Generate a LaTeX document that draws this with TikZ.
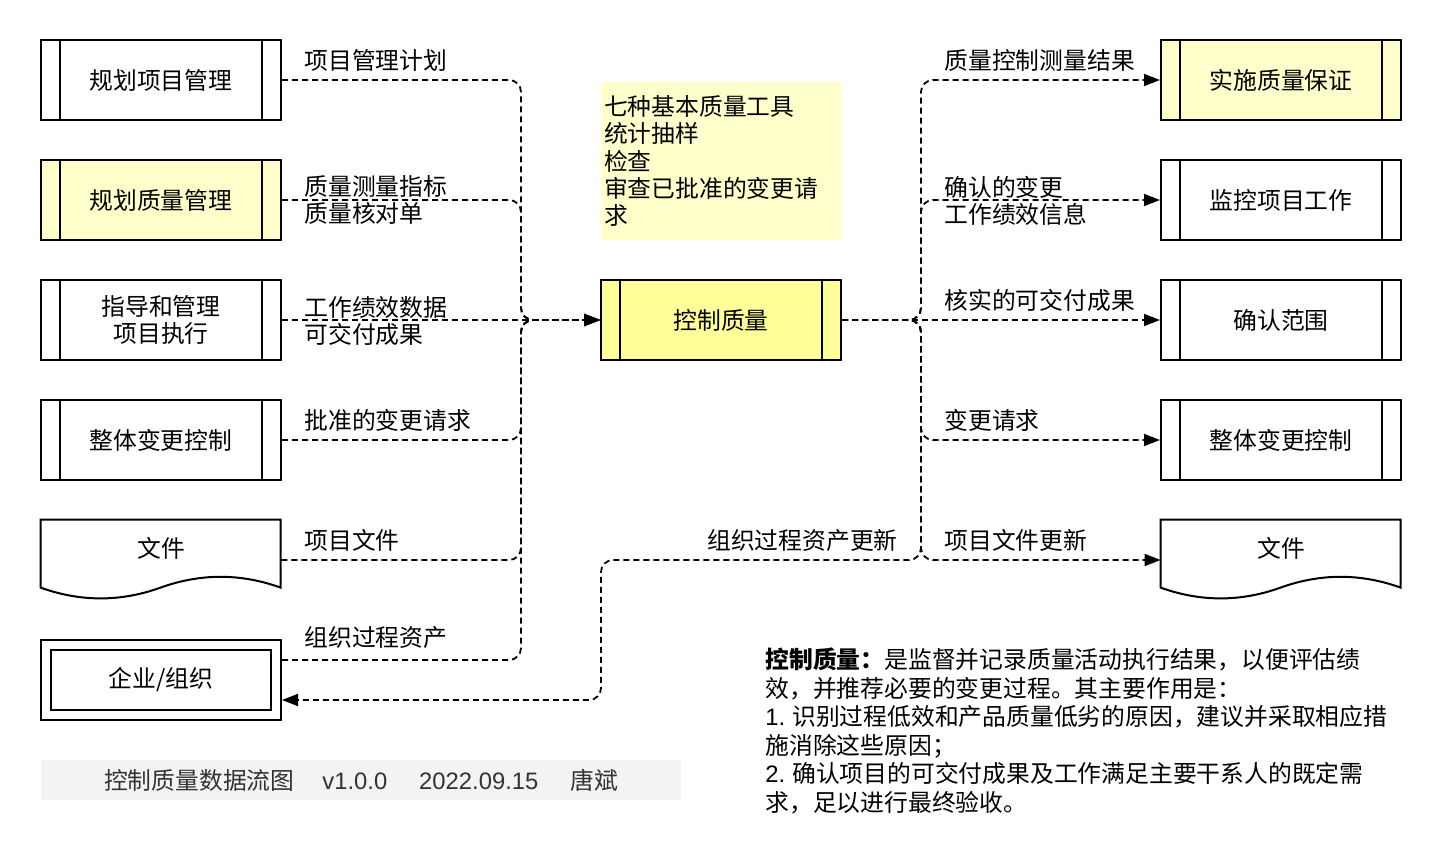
\documentclass[tikz,border=0pt]{standalone}
\usepackage{fontspec}
\setmainfont{Noto Sans CJK SC}
\newfontfamily\lat{Liberation Sans}
\usetikzlibrary{arrows.meta,calc}
\definecolor{ly}{HTML}{FFFFCC}
\definecolor{my}{HTML}{FFFF99}
\definecolor{foot}{HTML}{F3F3F3}
\definecolor{ftxt}{HTML}{333333}
\begin{document}
\begin{tikzpicture}[x=0.5pt,y=-0.5pt,
  every node/.style={font=\fontsize{11.9}{13.6}\selectfont, inner sep=0pt},
  proc/.style={draw, line width=1pt, minimum width=120pt, minimum height=40pt, align=center},
  frame/.style={minimum width=120pt, minimum height=40pt},
  flow/.style={line width=0.9pt, dash pattern=on 3pt off 2pt, rounded corners=6pt, -{Triangle[length=8pt,width=6pt]}},
  lbl/.style={anchor=west, align=left}]
\useasboundingbox (0,0) rectangle (1442,862);

% left column
\node[proc] (l1) at (161,80) {规划项目管理};
\node[proc, fill=ly] (l2) at (161,200) {规划质量管理};
\node[proc] (l3) at (161,320) {指导和管理\\项目执行};
\node[proc] (l4) at (161,440) {整体变更控制};
\node[frame] (ldoc) at (161,560) {};
\node (ldoct) at (161,548) {文件};
\node[draw, line width=1pt, minimum width=120pt, minimum height=40pt] (ent) at (161,680) {};
\node[draw, line width=1pt, minimum width=110pt, minimum height=30pt] (enti) at (161,680) {企业/组织};

% center
\node[proc, fill=my] (cq) at (721,320) {控制质量};
\node[fill=ly, minimum width=120pt, minimum height=79pt, text width=117pt, align=left] (note) at (721,161)
  {七种基本质量工具\\统计抽样\\检查\\审查已批准的变更请\\求};

% right column
\node[proc, fill=ly] (r1) at (1281,80) {实施质量保证};
\node[proc] (r2) at (1281,200) {监控项目工作};
\node[proc] (r3) at (1281,320) {确认范围};
\node[proc] (r4) at (1281,440) {整体变更控制};
\node[frame] (rdoc) at (1281,560) {};
\node (rdoct) at (1281,548) {文件};

% inner vertical lines of process boxes
\foreach \n in {l1,l2,l3,l4,cq,r1,r2,r3,r4}
  \draw[line width=1pt] ([xshift=10pt]\n.north west) -- ([xshift=10pt]\n.south west)
                        ([xshift=-10pt]\n.north east) -- ([xshift=-10pt]\n.south east);

% document shapes
\foreach \n in {ldoc,rdoc}
  \draw[line width=1pt, shift={(\n.north west)}]
    (0,0) -- (240,0) -- (240,68) .. controls (200,53.6) and (160,53.6) .. (120,68)
    .. controls (80,82.4) and (40,82.4) .. (0,68) -- cycle;

% trunk coordinates
\coordinate (lt) at (521,320);
\coordinate (rt) at (921,320);
\coordinate (ob) at (601,560);

% left connectors
\draw[flow] (l1.east) -| (lt) -- (cq.west);
\draw[flow] (l2.east) -| (lt) -- (cq.west);
\draw[flow] (l3.east) -- (cq.west);
\draw[flow] (l4.east) -| (lt) -- (cq.west);
\draw[flow] (ldoc.east) -| (lt) -- (cq.west);
\draw[flow] ([yshift=10pt]ent.east) -| (lt) -- (cq.west);

% right connectors
\draw[flow] (cq.east) -- (rt) |- (r1.west);
\draw[flow] (cq.east) -- (rt) |- (r2.west);
\draw[flow] (cq.east) -- (r3.west);
\draw[flow] (cq.east) -- (rt) |- (r4.west);
\draw[flow] (cq.east) -- (rt) |- (rdoc.west);
\draw[flow] (cq.east) -- (rt) |- (ob) |- ([yshift=-10pt]ent.east);

% left labels
\node[lbl] (la1) at (304,60) {项目管理计划};
\node[lbl] (la2) at (304,200) {质量测量指标\\质量核对单};
\node[lbl] (la3) at (304,321) {工作绩效数据\\可交付成果};
\node[lbl] (la4) at (304,420) {批准的变更请求};
\node[lbl] (la5) at (304,540) {项目文件};
\node[lbl] (la6) at (304,638) {组织过程资产};

% right labels
\node[lbl] (ra1) at (944,60) {质量控制测量结果};
\node[lbl] (ra2) at (944,201) {确认的变更\\工作绩效信息};
\node[lbl] (ra3) at (944,300) {核实的可交付成果};
\node[lbl] (ra4) at (944,420) {变更请求};
\node[lbl] (ra5) at (944,540) {项目文件更新};
\node[anchor=east] (ra6) at (898,540) {组织过程资产更新};

% description
\node[anchor=west, align=left, font=\fontsize{11.9}{14.3}\selectfont] (desc) at (765,731)
  {\textbf{控制质量：}是监督并记录质量活动执行结果，以便评估绩\\
   效，并推荐必要的变更过程。其主要作用是：\\
   {\lat 1.} 识别过程低效和产品质量低劣的原因，建议并采取相应措\\
   施消除这些原因；\\
   {\lat 2.} 确认项目的可交付成果及工作满足主要干系人的既定需\\
   求，足以进行最终验收。};

% footer
\node[fill=foot, minimum width=320pt, minimum height=20pt, text=ftxt] (foot) at (361,780)
  {控制质量数据流图\hspace{14pt}{\lat v1.0.0}\hspace{16pt}{\lat 2022.09.15}\hspace{16pt}唐斌};
\end{tikzpicture}
\end{document}
